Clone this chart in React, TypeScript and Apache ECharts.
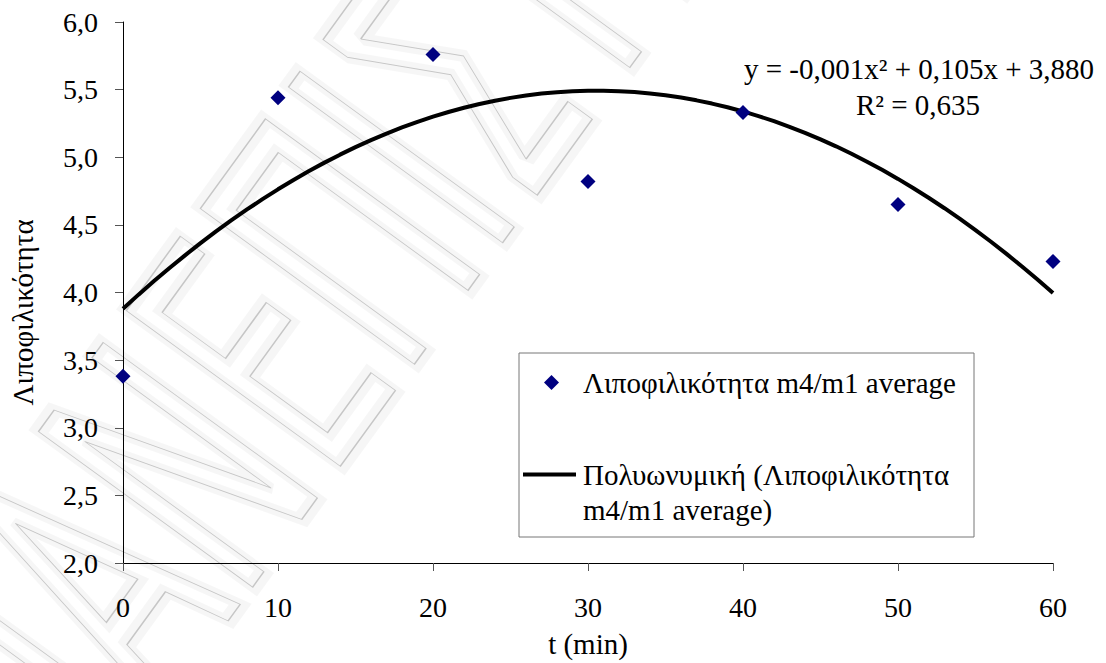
import { useEffect, useRef } from "react";
import * as echarts from "echarts";

// Sampling times (min) and measured lipophilicity averages
const times = [0, 10, 20, 30, 40, 50, 60];
const lipophilicity = [3.38, 5.44, 5.76, 4.82, 5.33, 4.65, 4.23];

// Axis ranges
const xRange = { min: 0, max: 60, interval: 10 };
const yRange = { min: 2, max: 6, interval: 0.5 };

// Texts
const scatterName = "Λιποφιλικότητα m4/m1 average";
const trendName = "Πολυωνυμική (Λιποφιλικότητα m4/m1 average)";
const trendLegendText = "\nΠολυωνυμική (Λιποφιλικότητα\nm4/m1 average)";
const equationText = "y = -0,001x² + 0,105x + 3,880";
const r2Text = "R² = 0,635";
const xAxisName = "t (min)";
const yAxisName = "Λιποφιλικότητα";
const watermarkText = "ΠΑΝΕΠΙΣΤΗΜΙΟ";

const FONT = "Liberation Serif";
const TEXT_SIZE = 29;
const TICK_SIZE = 28;

// Least-squares fit of y = a + b x + c x^2
function quadraticFit(xs: number[], ys: number[]) {
  const n = xs.length;
  let s1 = 0, s2 = 0, s3 = 0, s4 = 0, t0 = 0, t1 = 0, t2 = 0;
  for (let i = 0; i < n; i++) {
    const x = xs[i], y = ys[i];
    s1 += x; s2 += x * x; s3 += x * x * x; s4 += x * x * x * x;
    t0 += y; t1 += x * y; t2 += x * x * y;
  }
  const det3 = (m: number[][]) =>
    m[0][0] * (m[1][1] * m[2][2] - m[1][2] * m[2][1]) -
    m[0][1] * (m[1][0] * m[2][2] - m[1][2] * m[2][0]) +
    m[0][2] * (m[1][0] * m[2][1] - m[1][1] * m[2][0]);
  const M = [[n, s1, s2], [s1, s2, s3], [s2, s3, s4]];
  const r = [t0, t1, t2];
  const D = det3(M);
  const col = (k: number) => M.map((row, i) => row.map((v, j) => (j === k ? r[i] : v)));
  return { a: det3(col(0)) / D, b: det3(col(1)) / D, c: det3(col(2)) / D };
}

export default function App() {
  const ref = useRef<HTMLDivElement>(null);

  useEffect(() => {
    if (!ref.current) return;
    document.body.style.margin = "0";
    const chart = echarts.init(ref.current, null, { renderer: "svg" });

    const { a, b, c } = quadraticFit(times, lipophilicity);
    const curve: number[][] = [];
    for (let x = xRange.min; x <= xRange.max; x += 1) {
      curve.push([x, a + b * x + c * x * x]);
    }
    const points = times.map((t, i) => [t, lipophilicity[i]]);

    const textStyle = { fontFamily: FONT, fontSize: TEXT_SIZE, color: "#000" };
    const tickStyle = { fontFamily: FONT, fontSize: TICK_SIZE, color: "#000" };

    const watermarkBase = {
      type: "text",
      silent: true,
      x: -29,
      y: 761,
      rotation: (54 * Math.PI) / 180,
      scaleX: 0.55,
    };
    const watermarkStyle = {
      text: watermarkText,
      fontFamily: "DejaVu Sans",
      fontSize: 363,
      fill: "none",
      textAlign: "left",
      textVerticalAlign: "middle",
    };

    chart.setOption({
      animation: false,
      backgroundColor: "#fff",
      textStyle: { fontFamily: FONT },
      grid: { left: 123, right: 53, top: 22, bottom: 95, containLabel: false },
      xAxis: {
        type: "value",
        min: xRange.min,
        max: xRange.max,
        interval: xRange.interval,
        name: xAxisName,
        nameLocation: "middle",
        nameGap: 66,
        nameTextStyle: textStyle,
        axisLine: { show: true, lineStyle: { color: "#000", width: 1 } },
        axisTick: { show: true, length: 8, lineStyle: { color: "#555" } },
        axisLabel: { ...tickStyle, margin: 30 },
        splitLine: { show: false },
      },
      yAxis: {
        type: "value",
        min: yRange.min,
        max: yRange.max,
        interval: yRange.interval,
        name: yAxisName,
        nameLocation: "middle",
        nameGap: 86,
        nameRotate: 90,
        nameTextStyle: { ...textStyle, padding: [0, 40, 0, 0] },
        axisLine: { show: true, lineStyle: { color: "#000", width: 1 } },
        axisTick: { show: true, length: 8, lineStyle: { color: "#555" } },
        axisLabel: {
          ...tickStyle,
          margin: 25,
          formatter: (v: number) => v.toFixed(1).replace(".", ","),
        },
        splitLine: { show: false },
      },
      legend: [
        {
          data: [{ name: scatterName, icon: "diamond" }],
          left: 544,
          top: 368,
          orient: "vertical",
          itemWidth: 15,
          itemHeight: 15,
          padding: 0,
          selectedMode: false,
          textStyle: { ...textStyle, padding: [0, 0, 0, 19] },
        },
        {
          data: [{ name: trendName, icon: "rect" }],
          left: 523,
          top: 422,
          orient: "vertical",
          itemWidth: 53,
          itemHeight: 4,
          padding: 0,
          selectedMode: false,
          formatter: () => trendLegendText,
          textStyle: { ...textStyle, lineHeight: 35, padding: [0, 0, 0, 2] },
        },
      ],
      graphic: [
        {
          ...watermarkBase,
          z: -11,
          style: {
            ...watermarkStyle,
            stroke: "rgba(0,0,0,0.035)",
            lineWidth: 18,
            lineJoin: "round",
          },
        },
        {
          ...watermarkBase,
          z: -10,
          style: { ...watermarkStyle, stroke: "#c6c6c6", lineWidth: 1.5 },
        },
        {
          type: "rect",
          z: 1,
          silent: true,
          shape: { x: 519, y: 353, width: 455, height: 184 },
          style: { fill: "#fff", stroke: "#777", lineWidth: 1 },
        },
        {
          type: "text",
          z: 5,
          x: 919,
          y: 69,
          style: {
            text: equationText,
            fontFamily: FONT,
            fontSize: TEXT_SIZE,
            fill: "#000",
            textAlign: "center",
            textVerticalAlign: "middle",
          },
        },
        {
          type: "text",
          z: 5,
          x: 918,
          y: 105,
          style: {
            text: r2Text,
            fontFamily: FONT,
            fontSize: TEXT_SIZE,
            fill: "#000",
            textAlign: "center",
            textVerticalAlign: "middle",
          },
        },
      ],
      series: [
        {
          name: trendName,
          type: "line",
          data: curve,
          symbol: "none",
          smooth: false,
          lineStyle: { color: "#000", width: 4 },
          itemStyle: { color: "#000" },
          z: 2,
        },
        {
          name: scatterName,
          type: "scatter",
          data: points,
          symbol: "diamond",
          symbolSize: 15,
          itemStyle: { color: "#000080", opacity: 1 },
          z: 3,
        },
      ],
    });

    return () => chart.dispose();
  }, []);

  return (
    <div
      ref={ref}
      style={{ position: "absolute", left: 0, top: 0, width: 1106, height: 663, overflow: "hidden" }}
    />
  );
}
